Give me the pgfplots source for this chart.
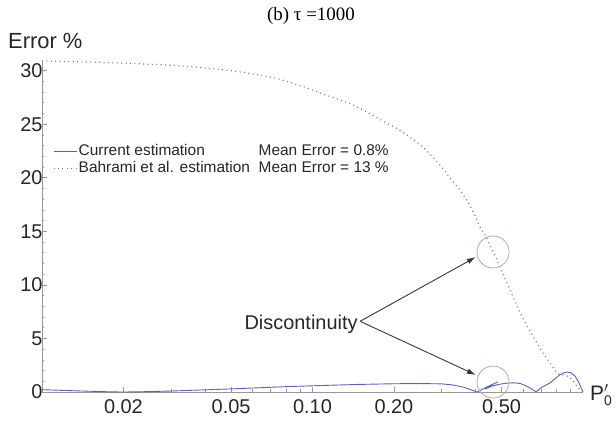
\documentclass[border=0pt]{standalone}
\usepackage{pgfplots}
\pgfplotsset{compat=1.18}
\usepackage{fontspec}
\setmainfont{Liberation Sans}
\newfontfamily\seriffont{Liberation Serif}
\usetikzlibrary{arrows.meta}
\definecolor{curblue}{RGB}{95,95,190}
\definecolor{dotgray}{RGB}{125,125,125}
\definecolor{axgray}{RGB}{150,150,150}
\definecolor{circ}{RGB}{200,160,160}
\definecolor{arr}{RGB}{55,55,55}
\begin{document}
\begin{tikzpicture}
\path[use as bounding box] (-42bp,-34bp) rectangle (574bp,392bp);
\begin{axis}[
  scale only axis, width=541bp, height=331bp,
  xmode=log, xmin=0.01, xmax=1, ymin=0, ymax=30.9,
  axis x line=bottom, axis y line=left,
  axis line style={axgray, line width=0.8bp, -},
  every outer x axis line/.append style={-},
  every outer y axis line/.append style={-},
  xtick={0.02,0.05,0.1,0.2,0.5}, xticklabels={0.02,0.05,0.10,0.20,0.50},
  minor xtick={0.01,0.03,0.04,0.06,0.07,0.08,0.09,0.3,0.4,0.6,0.7,0.8,0.9},
  ytick={0,5,10,15,20,25,30}, yticklabels={0,5,10,15,20,25,30},
  minor y tick num=4,
  tick style={axgray, line width=0.6bp},
  major tick length=5bp, minor tick length=2.5bp,
  tick align=inside,
  ticklabel style={font=\fontsize{20}{20}\selectfont, text=black!85},
  xticklabel style={yshift=-4.3bp},
  yticklabel style={xshift=4bp},
  /pgf/number format/assume math mode=true,
  clip=false,
  unbounded coords=jump,
  legend cell align=left,
  legend image code/.code={\draw[#1] (0bp,0bp) -- (23bp,0bp);},
  legend style={at={(rel axis cs:0.02,0.752)}, anchor=north west, draw=none, fill=none,
    inner sep=0pt, font=\fontsize{15.5}{17}\selectfont, text=black!85,
    nodes={inner sep=1.5bp, text height=11bp, text depth=3bp}, row sep=0pt},
]
\addplot[curblue, line width=0.9bp] coordinates {
(0.01,0.22)(0.011,0.18)(0.013,0.12)(0.015,0.07)(0.017,0.03)(0.019,0.006)(0.02,0)(0.022,0.01)(0.025,0.04)(0.03,0.09)(0.035,0.15)(0.04,0.2)(0.05,0.29)(0.06,0.37)(0.07,0.44)(0.08,0.5)(0.1,0.58)(0.12,0.64)(0.15,0.71)(0.2,0.77)(0.25,0.79)(0.3,0.76)(0.33,0.66)(0.36,0.46)(0.385,0.22)(0.405,0)
(0.41,nan)
(0.405,0)(0.44,0.45)(0.485,0.95)
(0.49,nan)
(0.435,0.28)(0.46,0.55)(0.49,0.72)(0.52,0.82)(0.555,0.86)(0.585,0.8)(0.61,0.62)(0.64,0.35)(0.671,0)(0.70,0.4)(0.754,0.84)(0.82,1.6)(0.85,1.8)(0.873,1.87)(0.90,1.8)(0.93,1.55)(0.96,1.0)(0.98,0.5)(1.0,0)
};
\addlegendentry{\makebox[180bp][l]{Current estimation}Mean Error = 0.8\%}
\addplot[dotgray, line width=1.2bp, dash pattern=on 1bp off 3.4bp, smooth] coordinates {
(0.01,30.9)(0.015,30.8)(0.02,30.7)(0.03,30.5)(0.04,30.25)(0.05,30.0)(0.06,29.7)(0.073,29.3)(0.09,28.6)(0.11,27.8)(0.138,26.9)(0.16,26.1)(0.182,25.3)(0.205,24.6)(0.229,23.8)(0.255,22.9)(0.279,21.9)(0.30,21.0)(0.322,20.0)(0.347,19.0)(0.372,17.9)(0.395,16.7)(0.416,15.4)(0.44,14.4)(0.461,13.3)(0.48,12.4)(0.493,11.6)(0.536,9.6)(0.58,7.6)(0.624,6.1)(0.666,4.85)(0.711,3.64)(0.766,2.52)(0.80,1.77)(0.89,1.4)(0.955,0.47)(0.99,0)
};
\addlegendentry{\makebox[180bp][l]{Bahrami et al. estimation}Mean Error = 13 \%}
\draw[circ, line width=0.8bp] (axis cs:0.465,13.07) circle[radius=16bp];
\draw[circ, line width=0.8bp] (axis cs:0.465,0.93) circle[radius=16bp];
\node[anchor=base east, font=\fontsize{20}{20}\selectfont, inner sep=0pt, text=black!85] at (axis cs:0.147,5.88) {Discontinuity};
\draw[arr, line width=0.9bp, -{Latex[length=9bp,width=5.5bp]}] (axis cs:0.150,6.6) -- (axis cs:0.402,12.6);
\draw[arr, line width=0.9bp, -{Latex[length=9bp,width=5.5bp]}] (axis cs:0.150,6.6) -- (axis cs:0.402,1.59);
\node[anchor=base, xshift=269bp, yshift=40bp, font=\seriffont\fontsize{19}{19}\selectfont, inner sep=0pt] at (rel axis cs:0,1) {(b) τ =1000};
\node[anchor=base west, xshift=-34bp, yshift=12bp, font=\fontsize{22}{22}\selectfont, inner sep=0pt, text=black!85] at (rel axis cs:0,1) {Error \%};
\node[anchor=base west, xshift=7bp, yshift=-8bp, font=\fontsize{21}{21}\selectfont, inner sep=0pt, text=black!85] at (rel axis cs:1,0) {P$'_{\hbox{\fontsize{14}{14}\selectfont 0}}$};
\end{axis}
\end{tikzpicture}
\end{document}
